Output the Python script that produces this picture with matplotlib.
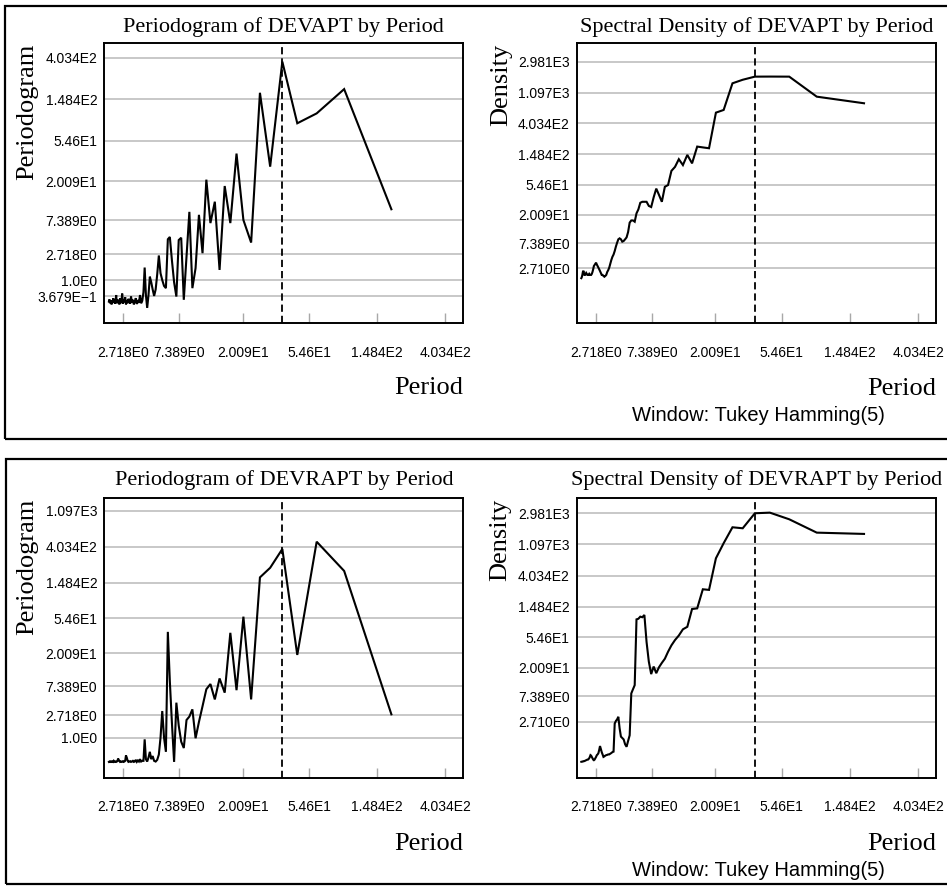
import numpy as np
import matplotlib
matplotlib.use("Agg")
import matplotlib.pyplot as plt
from matplotlib import font_manager
from matplotlib.patches import Rectangle

W, H = 947, 888

# --- data -------------------------------------------------------------
N_OBS = 183
harmonics = np.arange(1, 92)          # k = 1 .. 91
period = N_OBS / harmonics            # Fourier periods

ref_period = 36.6                     # dashed reference line

# periodogram / spectral density values, ordered by harmonic k = 1..91
devapt_pgram = [
    9.85, 190, 106, 83.5, 367, 29, 174, 3.9, 7.4, 40,
    6.8, 17.9, 1.55, 12, 6.8, 21, 2.8, 8.5, 1.66, 0.65,
    9.2, 2.5, 0.25, 4.5, 4.2, 0.35, 0.9, 2.2, 4.6, 4.3,
    0.65, 0.74, 1.0, 1.36, 2.6, 1.3, 0.6, 0.37, 0.6, 0.9,
    1.17, 0.4, 0.03, 0.4, 1.7, 0.5,
    0.22, 0.15, 0.4, 0.16, 0.24, 0.13, 0.3, 0.2, 0.12, 0.25,
    0.17, 0.35, 0.14, 0.22, 0.28, 0.15, 0.24, 0.12, 0.33, 0.18,
    0.25, 0.14, 0.45, 0.2, 0.16, 0.3, 0.12, 0.22, 0.17, 0.26,
    0.15, 0.4, 0.2, 0.14, 0.25, 0.17, 0.3, 0.16, 0.22, 0.12,
    0.24, 0.18, 0.15, 0.26, 0.2,
]

devapt_density = [
    775, 960, 1836, 1840, 1836, 1660, 1480, 624, 572, 180,
    185, 190, 110, 145, 104, 126, 98, 86, 54, 51,
    31, 39, 48, 36, 26, 27, 31, 31, 31, 30,
    24, 21, 15.8, 16.5, 16.5, 15.3, 11, 9.1, 8.5, 8.0,
    7.8, 8.5, 8.8, 8.5, 7.5, 6.5, 5.5, 4.8, 4.4, 3.87,
    3.3, 2.8, 2.5, 2.3, 2.0, 1.9, 1.83, 1.9, 2.0, 2.0,
    2.2, 2.4, 2.6, 2.8, 3.0, 3.2, 3.46, 3.3, 3.14, 3.0,
    2.6, 2.3, 2.1, 2.0, 2.0, 2.0, 2.1, 2.0, 2.0, 2.0,
    2.1, 2.2, 2.1, 2.0, 2.0, 2.2, 2.44, 2.3, 2.0, 1.8,
    1.7,
]

devrapt_pgram = [
    2.83, 206, 466, 19, 380, 225, 172, 4.8, 57, 6.5,
    36, 6, 9.4, 4.8, 7.9, 6.7, 3.8, 2.1, 0.97, 3.4,
    2.6, 2.27, 0.5, 0.79, 1.8, 4.3, 0.02, 2.0, 8.6, 37,
    0.35, 1.0, 3.2, 1.0, 0.25, 0.08, 0.03, 0.05, 0.2, 0.1,
    0.35, 0.15, 0.03, 0.1, 0.91, 0.05,
    0.05, 0.03, 0.1, 0.03, 0.06, 0.02, 0.08, 0.03, 0.02, 0.05,
    0.03, 0.02, 0.04, 0.03, 0.02, 0.06, 0.15, 0.22, 0.05, 0.03,
    0.02, 0.04, 0.03, 0.02, 0.03, 0.02, 0.05, 0.08, 0.12, 0.04,
    0.03, 0.02, 0.03, 0.02, 0.03, 0.05, 0.02, 0.03, 0.02, 0.03,
    0.02, 0.03, 0.02, 0.03, 0.02,
]

devrapt_density = [
    1535, 1600, 2455, 3040, 2980, 1840, 1900, 1140, 702, 254,
    259, 140, 137, 77, 71, 58, 50, 42, 34, 27,
    23.5, 20.3, 16.6, 20.8, 16.1, 24.5, 47, 113, 105, 107,
    100, 98, 11, 9.5, 8.2, 1.4, 1.0, 0.66, 0.8, 1.1,
    1.2, 1.3, 2.0, 3.35, 3.0, 2.8, 2.5, 0.42, 0.4, 0.36,
    0.33, 0.3, 0.3, 0.28, 0.27, 0.25, 0.22, 0.2, 0.3, 0.4,
    0.55, 0.7, 0.5, 0.35, 0.3, 0.27, 0.2, 0.15, 0.1, 0.08,
    0.1, 0.15, 0.2, 0.25, 0.27, 0.2, 0.15, 0.12, 0.1, 0.1,
    0.09, 0.08, 0.07, 0.06, 0.05, 0.05, 0.04, 0.04, 0.03, 0.03,
    0.026,
]

x_tick_exp = [1, 2, 3, 4, 5, 6]
x_tick_labels = ["2.718E0", "7.389E0", "2.009E1", "5.46E1", "1.484E2", "4.034E2"]

pgram1_tick_exp = [-1, 0, 1, 2, 3, 4, 5, 6]
pgram1_tick_labels = ["3.679E\u22121", "1.0E0", "2.718E0", "7.389E0",
                      "2.009E1", "5.46E1", "1.484E2", "4.034E2"]
pgram2_tick_exp = [0, 1, 2, 3, 4, 5, 6, 7]
pgram2_tick_labels = ["1.0E0", "2.718E0", "7.389E0", "2.009E1",
                      "5.46E1", "1.484E2", "4.034E2", "1.097E3"]
dens_tick_exp = [1, 2, 3, 4, 5, 6, 7, 8]
dens_tick_labels = ["2.710E0", "7.389E0", "2.009E1", "5.46E1",
                    "1.484E2", "4.034E2", "1.097E3", "2.981E3"]

# --- fonts ------------------------------------------------------------
installed = {f.name for f in font_manager.fontManager.ttflist}
if "Liberation Sans Narrow" in installed:
    tick_prop = font_manager.FontProperties(family="Liberation Sans Narrow", size=11)
else:
    tick_prop = font_manager.FontProperties(family="Liberation Sans", size=10)
serif_font = ["Liberation Serif", "DejaVu Serif"]
note_font = ["Liberation Sans", "DejaVu Sans"]


def fx(px):
    return px / W


def fy(py):
    return 1 - py / H


def draw_panel(fig, box, values, ytick_exp, ytick_labels, ylog_lim,
               title, ylabel, title_y, ylabel_x, xlabel_y, note_y=None):
    left, top, right, bottom = box
    ax = fig.add_axes([fx(left), fy(bottom), (right - left) / W, (bottom - top) / H])
    ax.set_xscale("function", functions=(np.log1p, np.expm1))
    ax.set_yscale("function", functions=(np.log1p, np.expm1))

    ax.plot(period, values, color="black", lw=1.5, solid_joinstyle="miter")
    ax.axvline(ref_period, color="black", lw=1.3, ls=(0, (4, 2.2)))

    ax.set_xlim(np.expm1(1.035), np.expm1(6.262))
    ax.set_ylim(np.expm1(ylog_lim[0]), np.expm1(ylog_lim[1]))

    ax.set_xticks(np.exp(x_tick_exp))
    ax.set_xticklabels(x_tick_labels)
    ax.set_yticks(np.exp(ytick_exp))
    ax.set_yticklabels(ytick_labels)
    ax.xaxis.set_minor_locator(plt.NullLocator())
    ax.yaxis.set_minor_locator(plt.NullLocator())

    ax.tick_params(axis="x", direction="in", length=7, width=1, color="#a8a8a8", pad=16)
    ax.tick_params(axis="y", length=0, pad=5)
    for lab in ax.get_xticklabels() + ax.get_yticklabels():
        lab.set_fontproperties(tick_prop)

    ax.yaxis.grid(True, color="#c4c4c4", lw=1.3)
    ax.set_axisbelow(True)
    for s in ax.spines.values():
        s.set_linewidth(1.4)
        s.set_color("black")

    cx = (left + right) / 2
    fig.text(fx(cx), fy(title_y), title, ha="center", va="center",
             fontsize=16, family=serif_font)
    fig.text(fx(ylabel_x), fy(top), ylabel, rotation=90, ha="center", va="top",
             fontsize=19, family=serif_font)
    fig.text(fx(right), fy(xlabel_y), "Period", ha="right", va="center",
             fontsize=19, family=serif_font)
    if note_y is not None:
        fig.text(fx(758), fy(note_y), "Window: Tukey Hamming(5)", ha="center",
                 va="center", fontsize=14.5, family=note_font)
    return ax


fig = plt.figure(figsize=(W / 100, H / 100), dpi=100)

# outer frames
fig.add_artist(Rectangle((fx(4.7), fy(439)), fx(960), (439 - 6) / H,
                         transform=fig.transFigure, fill=False, lw=1.6, ec="black"))
fig.add_artist(Rectangle((fx(5.5), fy(884)), fx(960), (884 - 459.3) / H,
                         transform=fig.transFigure, fill=False, lw=1.6, ec="black"))

draw_panel(fig, (104.3, 43.3, 463.3, 323.3), devapt_pgram,
           pgram1_tick_exp, pgram1_tick_labels, (-0.338, 6.346),
           "Periodogram of DEVAPT by Period", "Periodogram",
           title_y=27, ylabel_x=27, xlabel_y=388)
draw_panel(fig, (576.7, 43.3, 936, 323.3), devapt_density,
           dens_tick_exp, dens_tick_labels, (-0.467, 8.595),
           "Spectral Density of DEVAPT by Period", "Density",
           title_y=27, ylabel_x=501, xlabel_y=389, note_y=415)
draw_panel(fig, (104.3, 498.3, 463.3, 777.7), devrapt_pgram,
           pgram2_tick_exp, pgram2_tick_labels, (-0.42, 7.354),
           "Periodogram of DEVRAPT by Period", "Periodogram",
           title_y=480, ylabel_x=27, xlabel_y=844)
draw_panel(fig, (576.7, 498.3, 936, 777.7), devrapt_density,
           dens_tick_exp, dens_tick_labels, (-0.485, 8.48),
           "Spectral Density of DEVRAPT by Period", "Density",
           title_y=480, ylabel_x=500, xlabel_y=844, note_y=870)

fig.savefig("out.png", dpi=100)
